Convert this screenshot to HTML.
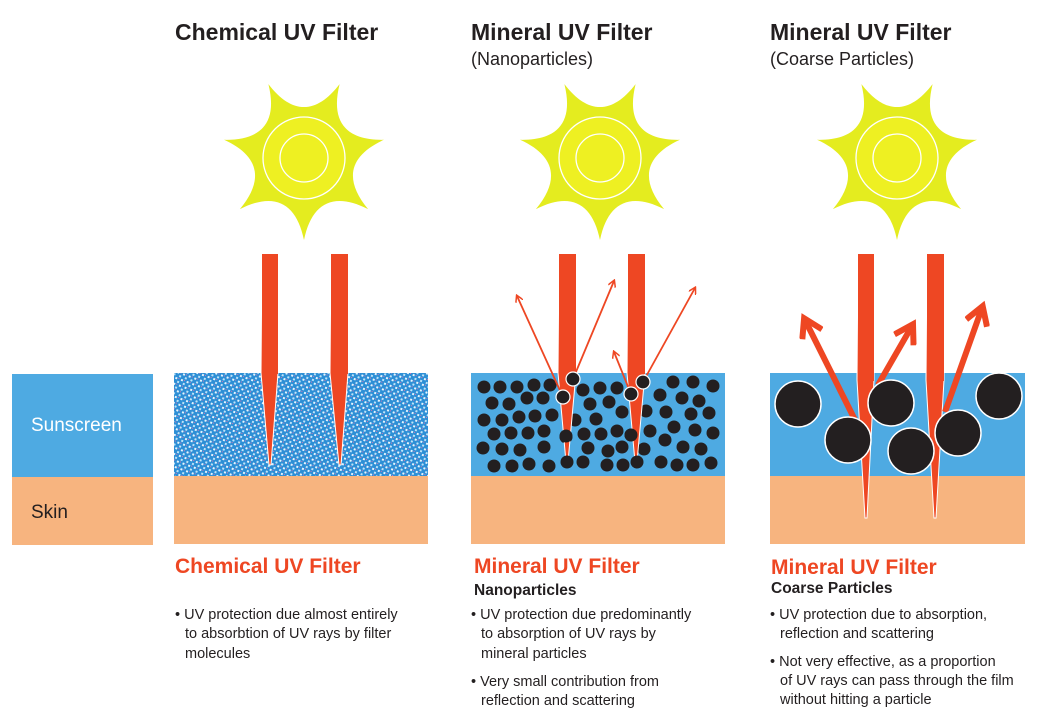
<!DOCTYPE html>
<html><head><meta charset="utf-8"><style>
html,body{margin:0;padding:0;background:#fff;}
svg{display:block;font-family:"Liberation Sans",Arial,sans-serif;}
</style></head><body>
<svg width="1053" height="723" viewBox="0 0 1053 723" xmlns="http://www.w3.org/2000/svg">
<defs>
<pattern id="chem" width="6" height="6" patternUnits="userSpaceOnUse" patternTransform="rotate(20)">
<rect width="6" height="6" fill="#2d8fd6"/>
<rect x="0" y="0" width="2" height="2" fill="#e8f4fc"/>
<rect x="3" y="3" width="2" height="2" fill="#bfe3f7"/>
<rect x="3" y="0" width="1" height="1" fill="#e06fb0"/>
</pattern>
<g id="sun">
<path d="M0,82 C-7.8,44.3 -29.8,33.7 -64.1,51.1 C-39.5,21.5 -44.9,-2.2 -79.9,-18.2 C-41.5,-17.5 -26.3,-36.5 -35.6,-73.9 C-12.2,-43.3 12.2,-43.3 35.6,-73.9 C26.3,-36.5 41.5,-17.5 79.9,-18.2 C44.9,-2.2 39.5,21.5 64.1,51.1 C29.8,33.7 7.8,44.3 0,82Z" fill="#e4ec1f"/>
<circle r="41" fill="#eef022" stroke="#fff" stroke-width="1.3"/>
<circle r="24" fill="#eef022" stroke="#fff" stroke-width="1.3"/>
</g>
<marker id="ah" markerWidth="8" markerHeight="8" refX="6" refY="4" orient="auto" markerUnits="userSpaceOnUse"><path d="M0,0 L7,4 L0,8" fill="none" stroke="#ee4723" stroke-width="1.5"/></marker>
<marker id="ahb" markerWidth="26" markerHeight="26" refX="18" refY="13" orient="auto" markerUnits="userSpaceOnUse"><path d="M2,2 L20,13 L2,24" fill="none" stroke="#ee4723" stroke-width="6"/></marker>
</defs>

<text x="175" y="40" font-size="23" font-weight="bold" fill="#231f20">Chemical UV Filter</text>
<text x="471" y="40" font-size="23" font-weight="bold" fill="#231f20">Mineral UV Filter</text>
<text x="471" y="65" font-size="18" fill="#231f20">(Nanoparticles)</text>
<text x="770" y="40" font-size="23" font-weight="bold" fill="#231f20">Mineral UV Filter</text>
<text x="770" y="65" font-size="18" fill="#231f20">(Coarse Particles)</text>

<use href="#sun" x="304" y="158"/>
<use href="#sun" x="600" y="158"/>
<use href="#sun" x="897" y="158"/>

<rect x="12" y="374" width="141" height="103" fill="#4eaae2"/>
<rect x="12" y="477" width="141" height="68" fill="#f7b47f"/>
<text x="31" y="431" font-size="19" fill="#fff">Sunscreen</text>
<text x="31" y="518" font-size="19" fill="#231f20">Skin</text>

<!-- panel 1 -->
<rect x="174" y="373" width="254" height="103" fill="url(#chem)"/>
<rect x="174" y="476" width="254" height="68" fill="#f7b47f"/>
<path d="M262,254 H278 V373 L271,465 L269,465 L261,373Z" fill="#ee4723" stroke="#fff" stroke-width="1"/>
<rect x="262" y="254" width="16" height="120" fill="#ee4723"/>
<path d="M331,254 H348 V373 L341,465 L339,465 L330,373Z" fill="#ee4723" stroke="#fff" stroke-width="1"/>
<rect x="331" y="254" width="17" height="120" fill="#ee4723"/>

<!-- panel 2 -->
<rect x="471" y="373" width="254" height="103" fill="#4eaae2"/>
<rect x="471" y="476" width="254" height="68" fill="#f7b47f"/>
<g fill="#231f20">
<circle cx="484" cy="387" r="6.5"/><circle cx="500" cy="387" r="6.5"/><circle cx="517" cy="387" r="6.5"/><circle cx="534" cy="385" r="6.5"/><circle cx="550" cy="385" r="6.5"/><circle cx="583" cy="390" r="6.5"/><circle cx="600" cy="388" r="6.5"/><circle cx="617" cy="388" r="6.5"/><circle cx="673" cy="382" r="6.5"/><circle cx="693" cy="382" r="6.5"/><circle cx="713" cy="386" r="6.5"/>
<circle cx="492" cy="403" r="6.5"/><circle cx="509" cy="404" r="6.5"/><circle cx="527" cy="398" r="6.5"/><circle cx="543" cy="398" r="6.5"/><circle cx="590" cy="404" r="6.5"/><circle cx="609" cy="402" r="6.5"/><circle cx="660" cy="395" r="6.5"/><circle cx="682" cy="398" r="6.5"/><circle cx="699" cy="401" r="6.5"/>
<circle cx="484" cy="420" r="6.5"/><circle cx="502" cy="420" r="6.5"/><circle cx="519" cy="417" r="6.5"/><circle cx="535" cy="416" r="6.5"/><circle cx="552" cy="415" r="6.5"/><circle cx="575" cy="420" r="6.5"/><circle cx="596" cy="419" r="6.5"/><circle cx="622" cy="412" r="6.5"/><circle cx="646" cy="411" r="6.5"/><circle cx="666" cy="412" r="6.5"/><circle cx="691" cy="414" r="6.5"/><circle cx="709" cy="413" r="6.5"/>
<circle cx="494" cy="434" r="6.5"/><circle cx="511" cy="433" r="6.5"/><circle cx="528" cy="433" r="6.5"/><circle cx="544" cy="431" r="6.5"/><circle cx="566" cy="437" r="6.5"/><circle cx="584" cy="434" r="6.5"/><circle cx="601" cy="434" r="6.5"/><circle cx="617" cy="431" r="6.5"/><circle cx="631" cy="435" r="6.5"/><circle cx="650" cy="431" r="6.5"/><circle cx="674" cy="427" r="6.5"/><circle cx="695" cy="430" r="6.5"/><circle cx="713" cy="433" r="6.5"/>
<circle cx="483" cy="448" r="6.5"/><circle cx="502" cy="449" r="6.5"/><circle cx="520" cy="450" r="6.5"/><circle cx="544" cy="447" r="6.5"/><circle cx="588" cy="448" r="6.5"/><circle cx="608" cy="451" r="6.5"/><circle cx="622" cy="447" r="6.5"/><circle cx="644" cy="449" r="6.5"/><circle cx="665" cy="440" r="6.5"/><circle cx="683" cy="447" r="6.5"/><circle cx="701" cy="449" r="6.5"/>
<circle cx="494" cy="466" r="6.5"/><circle cx="512" cy="466" r="6.5"/><circle cx="529" cy="464" r="6.5"/><circle cx="549" cy="466" r="6.5"/><circle cx="583" cy="462" r="6.5"/><circle cx="607" cy="465" r="6.5"/><circle cx="623" cy="465" r="6.5"/><circle cx="661" cy="462" r="6.5"/><circle cx="677" cy="465" r="6.5"/><circle cx="693" cy="465" r="6.5"/><circle cx="711" cy="463" r="6.5"/>
</g>
<path d="M559,254 H576 V373 L568,462 L566,462 L558,373Z" fill="#ee4723" stroke="#fff" stroke-width="1"/>
<rect x="559" y="254" width="17" height="120" fill="#ee4723"/>
<path d="M628,254 H645 V373 L637,462 L635,462 L627,373Z" fill="#ee4723" stroke="#fff" stroke-width="1"/>
<rect x="628" y="254" width="17" height="120" fill="#ee4723"/>
<g fill="#231f20"><circle cx="567" cy="462" r="6.5"/><circle cx="637" cy="462" r="6.5"/><circle cx="566" cy="436" r="6.5"/><circle cx="631" cy="435" r="6.5"/></g>
<g stroke="#ee4723" stroke-width="1.8" fill="none">
<line x1="563" y1="397" x2="517" y2="296" marker-end="url(#ah)"/>
<line x1="573" y1="379" x2="614" y2="281" marker-end="url(#ah)"/>
<line x1="631" y1="394" x2="614" y2="352" marker-end="url(#ah)"/>
<line x1="643" y1="382" x2="695" y2="288" marker-end="url(#ah)"/>
</g>
<g fill="#231f20" stroke="#fff" stroke-width="1.2">
<circle cx="573" cy="379" r="7"/><circle cx="563" cy="397" r="7"/><circle cx="631" cy="394" r="7"/><circle cx="643" cy="382" r="7"/>
</g>

<!-- panel 3 -->
<rect x="770" y="373" width="255" height="103" fill="#4eaae2"/>
<rect x="770" y="476" width="255" height="68" fill="#f7b47f"/>
<path d="M858,254 H874 V380 L867,518 L865,518 L857,380Z" fill="#ee4723" stroke="#fff" stroke-width="1"/>
<rect x="858" y="254" width="16" height="127" fill="#ee4723"/>
<path d="M927,254 H944 V380 L936,518 L934,518 L926,380Z" fill="#ee4723" stroke="#fff" stroke-width="1"/>
<rect x="927" y="254" width="17" height="127" fill="#ee4723"/>
<g stroke="#ee4723" stroke-width="6" fill="none">
<line x1="855" y1="420" x2="805" y2="320" marker-end="url(#ahb)"/>
<line x1="878" y1="385" x2="912" y2="326" marker-end="url(#ahb)"/>
<line x1="945" y1="412" x2="982" y2="308" marker-end="url(#ahb)"/>
</g>
<g fill="#231f20" stroke="#fff" stroke-width="1.5">
<circle cx="798" cy="404" r="23"/><circle cx="848" cy="440" r="23"/><circle cx="891" cy="403" r="23"/><circle cx="911" cy="451" r="23"/><circle cx="958" cy="433" r="23"/><circle cx="999" cy="396" r="23"/>
</g>

<g font-size="21" font-weight="bold" fill="#ee4723">
<text x="175" y="573">Chemical UV Filter</text>
<text x="474" y="573">Mineral UV Filter</text>
<text x="771" y="574">Mineral UV Filter</text>
</g>
<g font-size="15.5" font-weight="bold" fill="#231f20">
<text x="474" y="595">Nanoparticles</text>
<text x="771" y="593">Coarse Particles</text>
</g>
<g font-size="14.5" fill="#231f20">
<text x="175" y="619">• UV protection due almost entirely</text>
<text x="185" y="638">to absorbtion of UV rays by filter</text>
<text x="185" y="658">molecules</text>
<text x="471" y="619">• UV protection due predominantly</text>
<text x="481" y="638">to absorption of UV rays by</text>
<text x="481" y="658">mineral particles</text>
<text x="471" y="686">• Very small contribution from</text>
<text x="481" y="705">reflection and scattering</text>
<text x="770" y="619">• UV protection due to absorption,</text>
<text x="780" y="638">reflection and scattering</text>
<text x="770" y="666">• Not very effective, as a proportion</text>
<text x="780" y="685">of UV rays can pass through the film</text>
<text x="780" y="704">without hitting a particle</text>
</g>
</svg>
</body></html>
